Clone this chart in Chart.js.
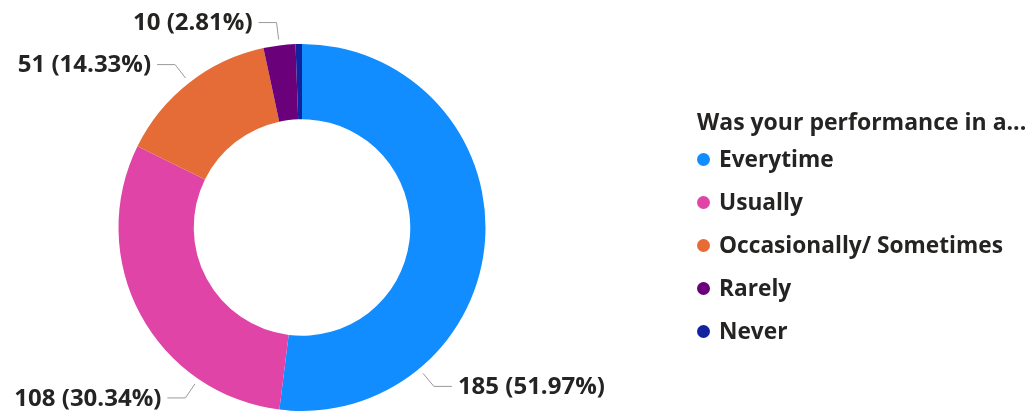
<!DOCTYPE html>
<html>
<head>
<meta charset="utf-8">
<script src="https://cdn.jsdelivr.net/npm/chart.js@4.4.1/dist/chart.umd.min.js"></script>
<style>
  html, body { margin: 0; padding: 0; background: #fff; }
  #wrap { position: relative; width: 1035px; height: 415px; }
  #legend {
    position: absolute; left: 697px; top: 105px;
    font-family: "Open Sans", sans-serif; color: #252423;
  }
  #legend .title { font-weight: 700; font-size: 23px; line-height: 32px; white-space: nowrap; }
  #legend .item { font-weight: 700; font-size: 22.7px; height: 43px; line-height: 43px; white-space: nowrap; }
  #legend .dot { display: inline-block; width: 13px; height: 13px; border-radius: 50%; margin: 0 9px 0 0; vertical-align: 1px; }
</style>
</head>
<body>
<div id="wrap">
  <canvas id="myChart" width="1035" height="415"></canvas>
  <div id="legend"></div>
</div>
<script>
const legendTitle = 'Was your performance in a...';
const categories = ['Everytime', 'Usually', 'Occasionally/ Sometimes', 'Rarely', 'Never'];
const responses = [185, 108, 51, 10, 2];
const colors = ['#118DFF', '#E044A7', '#E66C37', '#6B007B', '#12239E'];

// where along each slice the leader line starts (Power BI shifts the bottom ones)
const anchorAt = [0.75, 0.25, 0.5, 0.5, 0.5];

const total = responses.reduce((a, b) => a + b, 0);

// legend
const legend = document.getElementById('legend');
let html = '<div class="title">' + legendTitle + '</div>';
categories.forEach((c, i) => {
    html += '<div class="item"><span class="dot" style="background:' + colors[i] + '"></span>' + c + '</div>';
});
legend.innerHTML = html;

const leaderLabels = {
    id: 'leaderLabels',
    afterDatasetsDraw(chart) {
        const c = chart.ctx;
        const meta = chart.getDatasetMeta(0);
        c.save();
        c.font = '700 24px "Open Sans", sans-serif';
        c.textBaseline = 'middle';
        meta.data.forEach((arc, i) => {
            const v = responses[i];
            const pct = v / total * 100;
            if (pct < 1) return;
            const p = arc.getProps(['x', 'y', 'startAngle', 'endAngle', 'outerRadius'], true);
            const a = p.startAngle + anchorAt[i] * (p.endAngle - p.startAngle);
            const R = p.outerRadius;
            const x1 = p.x + Math.cos(a) * (R + 6), y1 = p.y + Math.sin(a) * (R + 6);
            const x2 = p.x + Math.cos(a) * (R + 23), y2 = p.y + Math.sin(a) * (R + 23);
            const dir = Math.cos(a) >= 0 ? 1 : -1;
            const x3 = x2 + dir * 18;
            c.strokeStyle = '#9a9a9a';
            c.lineWidth = 1;
            c.beginPath();
            c.moveTo(x1, y1);
            c.lineTo(x2, y2);
            c.lineTo(x3, y2);
            c.stroke();
            c.fillStyle = '#252423';
            c.textAlign = dir > 0 ? 'left' : 'right';
            c.fillText(v + ' (' + pct.toFixed(2) + '%)', x3 + dir * 6, y2 + 1);
        });
        c.restore();
    }
};

new Chart(document.getElementById('myChart'), {
    type: 'doughnut',
    data: {
        labels: categories,
        datasets: [{
            data: responses,
            backgroundColor: colors,
            borderWidth: 0
        }]
    },
    options: {
        responsive: false,
        animation: false,
        cutout: '59%',
        layout: { padding: { left: 0, right: 431, top: 44, bottom: 4 } },
        plugins: {
            legend: { display: false },
            tooltip: { enabled: false }
        }
    },
    plugins: [leaderLabels]
});
</script>
</body>
</html>
